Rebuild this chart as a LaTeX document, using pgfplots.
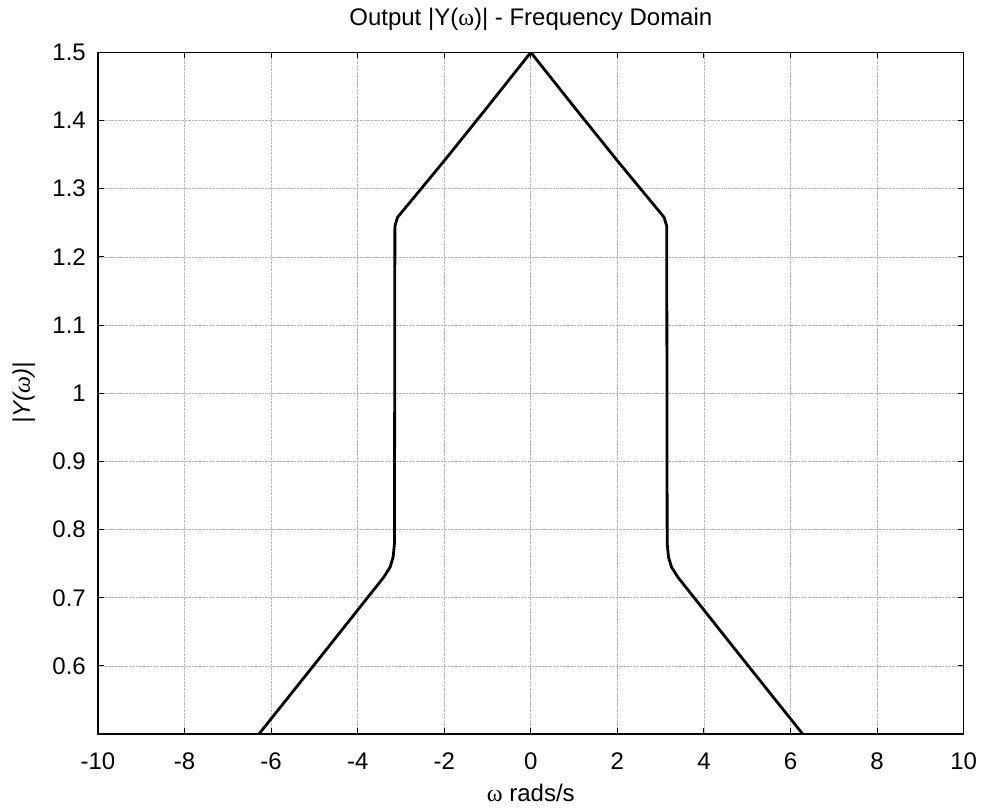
\documentclass[border=0pt]{standalone}
\usepackage{pgfplots}
\pgfplotsset{compat=1.18}
\usepackage{fontspec}
\setmainfont{Liberation Sans}
\newfontfamily\serifgreek{Liberation Serif}
\begin{document}
\fontsize{24}{28}\selectfont
\begin{tikzpicture}
\begin{axis}[
  scale only axis, width=866pt, height=682pt,
  xmin=-10, xmax=10, ymin=0.5, ymax=1.5,
  xtick={-10,-8,-6,-4,-2,0,2,4,6,8,10},
  xticklabels={-10,-8,-6,-4,-2,0,2,4,6,8,10},
  ytick={0.5,0.6,0.7,0.8,0.9,1,1.1,1.2,1.3,1.4,1.5},
  yticklabels={,0.6,0.7,0.8,0.9,1,1.1,1.2,1.3,1.4,1.5},
  tick align=inside,
  major tick length=6pt,
  tick style={black, line width=1pt},
  axis line style={black, line width=1.3pt},
  grid=major,
  major grid style={densely dotted, gray!55, line width=0.7pt},
  xticklabel style={anchor=base, yshift=-35pt, font=\fontsize{24}{28}\selectfont},
  yticklabel style={anchor=east, inner sep=0pt, xshift=-12pt, font=\fontsize{24}{28}\selectfont},
  title={Output |Y({\serifgreek ω})| - Frequency Domain},
  title style={at={(axis description cs:0.5,1)}, anchor=base, yshift=21pt, font=\fontsize{24}{28}\selectfont},
  xlabel={{\serifgreek ω} rads/s},
  xlabel style={at={(axis description cs:0.5,0)}, anchor=base, yshift=-67pt, font=\fontsize{24}{28}\selectfont},
  ylabel={\itshape |Y({\serifgreek\itshape ω})|},
  ylabel style={at={(axis description cs:-0.0855,0.5)}, anchor=center, font=\fontsize{24}{28}\selectfont},
]
\addplot[black, line width=2.8pt, line join=round] coordinates {
(-6.2832,0.5) (-5.0,0.602) (-4.0,0.682) (-3.4,0.730) (-3.25,0.745) (-3.18,0.760) (-3.15,0.780)
(-3.14,1.245) (-3.08,1.258) (-2.95,1.268) (-2.0,1.341) (-1.0,1.420) (0,1.5)
(1.0,1.420) (2.0,1.341) (2.95,1.268) (3.08,1.258) (3.14,1.245)
(3.15,0.780) (3.18,0.760) (3.25,0.745) (3.4,0.730) (4.0,0.682) (5.0,0.602) (6.2832,0.5)
};
\end{axis}
\path ([shift={(-98pt,-76pt)}]current axis.south west) rectangle ([shift={(21pt,50pt)}]current axis.north east);
\end{tikzpicture}
\end{document}
